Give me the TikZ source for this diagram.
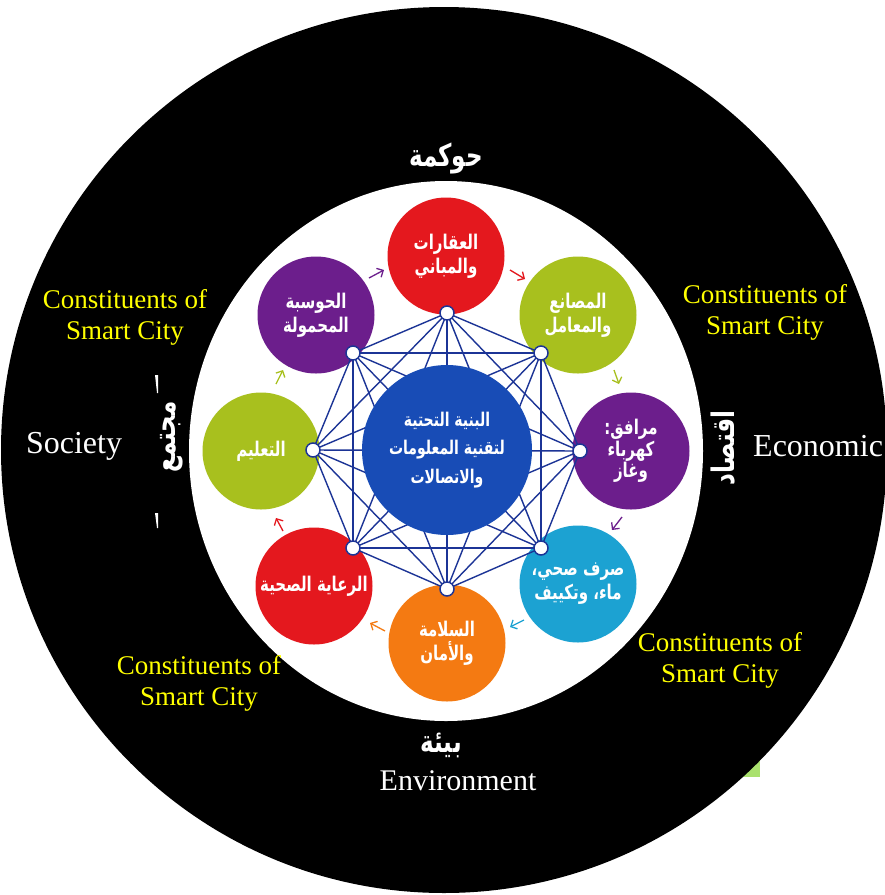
\documentclass[tikz,border=0pt]{standalone}
\usepackage{fontspec}
\setmainfont{Liberation Serif}
\newfontfamily\arabicfont[Script=Arabic]{DejaVu Sans}
\TeXXeTstate=1
\lineskiplimit=-100pt
\usetikzlibrary{arrows.meta}
\newcommand\AR[1]{\scalebox{1}[1.35]{\arabicfont\bfseries\beginR #1\endR}}
\definecolor{cred}{RGB}{228,24,30}
\definecolor{cgreen}{RGB}{168,192,30}
\definecolor{cpurple}{RGB}{108,30,140}
\definecolor{ccyan}{RGB}{28,162,210}
\definecolor{corange}{RGB}{244,122,18}
\definecolor{cblue}{RGB}{24,76,182}
\definecolor{cmesh}{RGB}{28,52,150}
\definecolor{cyel}{RGB}{255,255,0}
\definecolor{cpatch}{RGB}{170,225,110}
\tikzset{
  bubble/.style={circle, minimum size=117pt, inner sep=0pt, text=white, align=center, font=\fontsize{15}{24}\selectfont},
  hub/.style={circle, fill=white, draw=cmesh, line width=1.5pt, minimum size=14pt, inner sep=0pt},
  mesh/.style={draw=cmesh, line width=1.4pt},
  arr/.style={-{Straight Barb[length=5pt,width=10pt]}, line width=1.3pt},
  eng/.style={text=cyel, font=\fontsize{27}{31}\selectfont, align=center},
  wht/.style={text=white},
  arb/.style={text=white, font=\fontsize{23}{26}\selectfont},
}
\begin{document}
\begin{tikzpicture}[x=1pt,y=-1pt]
\useasboundingbox (0,0) rectangle (885,895);
\clip (0,0) rectangle (885,895);
\fill[cpatch] (743,760) rectangle (760,777);
\fill[black] (444,450) circle[radius=443pt];
\fill[white] (446,451) ellipse[x radius=257pt, y radius=270pt];
% small white marks
\fill[white] (155,375) -- (158,375) -- (158,393) -- (157,393) -- cycle;
\fill[white] (155,513) -- (158,513) -- (158,528) -- (157,528) -- cycle;
% bubbles
\node[bubble, fill=cred]    (b1) at (446,256) {\AR{العقارات}\\\AR{والمباني}};
\node[bubble, fill=cgreen]  (b2) at (578,315) {\AR{المصانع}\\\AR{والمعامل}};
\node[bubble, fill=cpurple, font=\fontsize{15}{21.5}\selectfont] (b3) at (631,451) {\AR{مرافق:}\\\AR{كهرباء}\\\AR{وغاز}};
\node[bubble, fill=ccyan]   (b4) at (578,584) {\AR{صرف صحي،}\\\AR{ماء، وتكييف}};
\node[bubble, fill=corange] (b5) at (447,643) {\AR{السلامة}\\\AR{والأمان}};
\node[bubble, fill=cred]    (b6) at (314,586) {\AR{الرعاية الصحية}};
\node[bubble, fill=cgreen]  (b7) at (261,451) {\AR{التعليم}};
\node[bubble, fill=cpurple] (b8) at (316,315) {\AR{الحوسبة}\\\AR{المحمولة}};
% arrows between bubbles
\coordinate (a1s) at (369,278); \coordinate (a1e) at (384,270);
\coordinate (a2s) at (510,270); \coordinate (a2e) at (525,279);
\coordinate (a3s) at (614,370); \coordinate (a3e) at (619,384);
\coordinate (a4s) at (622,517); \coordinate (a4e) at (612,530);
\coordinate (a5s) at (524,620); \coordinate (a5e) at (510,627);
\coordinate (a6s) at (385,631); \coordinate (a6e) at (370,623);
\coordinate (a7s) at (283,531); \coordinate (a7e) at (276,518);
\coordinate (a8s) at (276,384); \coordinate (a8e) at (283,370);
\draw[arr, draw=cpurple] (a1s) -- (a1e);
\draw[arr, draw=cred]    (a2s) -- (a2e);
\draw[arr, draw=cgreen]  (a3s) -- (a3e);
\draw[arr, draw=cpurple] (a4s) -- (a4e);
\draw[arr, draw=ccyan]   (a5s) -- (a5e);
\draw[arr, draw=corange] (a6s) -- (a6e);
\draw[arr, draw=cred]    (a7s) -- (a7e);
\draw[arr, draw=cgreen]  (a8s) -- (a8e);
% hub positions
\coordinate (p1) at (447,313);
\coordinate (p2) at (541,353);
\coordinate (p3) at (580,451);
\coordinate (p4) at (541,548);
\coordinate (p5) at (447,589);
\coordinate (p6) at (353,548);
\coordinate (p7) at (313,450);
\coordinate (p8) at (353,353);
\foreach \i in {1,...,8}{\foreach \j in {\i,...,8}{\ifnum\i<\j \draw[mesh] (p\i) -- (p\j);\fi}}
% center
\node[circle, fill=cblue, minimum size=170pt, inner sep=0pt, text=white, align=center, font=\fontsize{14}{28.5}\selectfont] (core) at (447,450)
  {\AR{البنية التحتية}\\\AR{لتقنية المعلومات}\\\AR{والاتصالات}};
\foreach \i in {1,...,8}{\node[hub] (h\i) at (p\i) {};}
% labels
\node[arb] (gov) at (446,158) {\AR{حوكمة}};
\node[arb] (env) at (441,745) {\AR{بيئة}};
\node[arb, rotate=90] (soc) at (172,437) {\AR{مجتمع}};
\node[arb, rotate=90] (eco) at (723,448) {\AR{اقتصاد}};
\node[wht, font=\fontsize{32}{36}\selectfont] (society) at (74,446) {Society};
\node[wht, font=\fontsize{32}{36}\selectfont, anchor=west, inner sep=0pt] (economic) at (753,446) {Economic};
\node[wht, font=\fontsize{30}{34}\selectfont] (environment) at (458,781) {Environment};
\node[eng] (c1) at (125,317) {Constituents of\\Smart City};
\node[eng] (c2) at (765,312) {Constituents of\\Smart City};
\node[eng] (c3) at (720,660) {Constituents of\\Smart City};
\node[eng] (c4) at (199,683) {Constituents of\\Smart City};
\end{tikzpicture}
\end{document}
